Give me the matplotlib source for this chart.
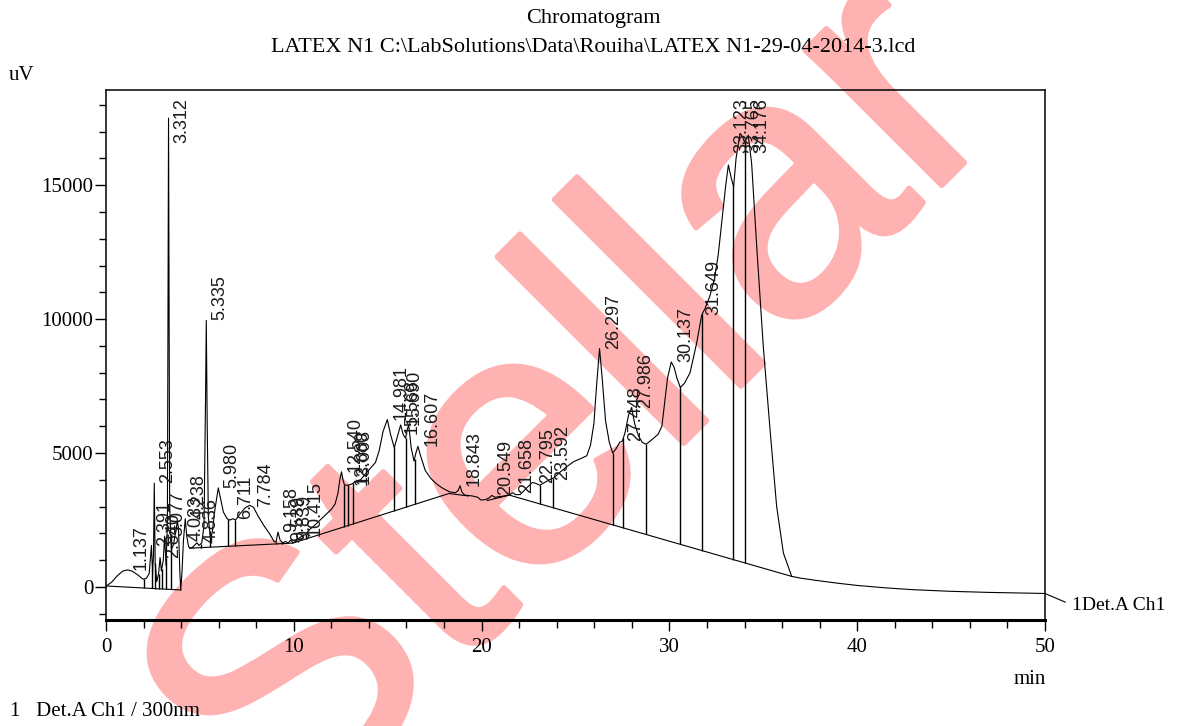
import numpy as np
import matplotlib
matplotlib.use("Agg")
import matplotlib.pyplot as plt
import matplotlib.patheffects as pe
from matplotlib.ticker import MultipleLocator

# ---- trace: time (min), signal (uV) ----
t_min = [0.00, 0.30, 0.60, 0.90, 1.15, 1.40, 1.70, 1.90, 2.00, 2.15, 2.30, 2.42, 2.48, 2.53, 2.57,
         2.62, 2.70, 2.80, 2.88, 2.95, 3.05, 3.12, 3.20, 3.27, 3.33, 3.39, 3.48, 3.60, 3.72, 3.80,
         3.86, 3.93, 3.98, 4.05, 4.12, 4.22, 4.30, 4.40, 4.55, 4.70, 4.84, 4.95, 5.10, 5.22, 5.30,
         5.34, 5.39, 5.45, 5.55, 5.65, 5.80, 5.98, 6.10, 6.25, 6.45, 6.60, 6.75, 6.90, 7.10, 7.40,
         7.65, 7.85, 8.10, 8.40, 8.70, 8.95, 9.05, 9.16, 9.27, 9.40, 9.55, 9.70, 9.84, 9.95, 10.10,
         10.25, 10.42, 10.60, 10.85, 11.10, 11.40, 11.70, 12.00, 12.20, 12.35, 12.45, 12.54, 12.62,
         12.70, 12.90, 13.10, 13.30, 13.55, 13.85, 14.10, 14.35, 14.55, 14.75, 14.98, 15.15, 15.35,
         15.55, 15.69, 15.82, 15.95, 16.05, 16.12, 16.25, 16.40, 16.50, 16.61, 16.75, 17.00, 17.30,
         17.60, 17.90, 18.30, 18.60, 18.75, 18.85, 18.95, 19.10, 19.50, 19.80, 19.95, 20.20, 20.40,
         20.55, 20.70, 20.90, 21.20, 21.50, 21.66, 21.80, 22.05, 22.40, 22.70, 22.85, 23.10, 23.35,
         23.60, 23.85, 24.20, 24.55, 24.90, 25.30, 25.60, 25.80, 25.98, 26.12, 26.28, 26.42, 26.60,
         26.80, 26.98, 27.15, 27.35, 27.50, 27.65, 27.82, 27.99, 28.15, 28.35, 28.55, 28.75, 28.95,
         29.15, 29.40, 29.60, 29.75, 29.90, 30.10, 30.25, 30.40, 30.58, 30.80, 31.10, 31.45, 31.72,
         31.90, 32.15, 32.40, 32.60, 32.80, 33.00, 33.14, 33.28, 33.42, 33.55, 33.76, 33.90, 34.00,
         34.20, 34.38, 34.65, 35.00, 35.36, 35.71, 36.07, 36.51, 37.00, 38.00, 39.00, 40.00, 41.50,
         43.00, 45.00, 47.00, 50.00]
signal_uv = [30, 180, 420, 600, 640, 590, 450, 330, 290, 330, 500, 1550, 500, 1200, 3880,
             900, 200, 500, 1100, 600, 1000, 1900, 800, 2500, 17500, 3000, 1400, 1600, 2100, 2450,
             2200, 600, -120, 600, 1700, 2550, 1900, 1500, 1450, 1550, 1650, 1550, 1650, 2300, 7000,
             9950, 6000, 2600, 1900, 2000, 2900, 3700, 3300, 2800, 2550, 2500, 2550, 2500, 2700, 2950,
             3050, 2980, 2650, 2300, 2000, 1700, 1680, 2050, 1750, 1650, 1700, 1650, 1750, 1650, 1700,
             1800, 1900, 1950, 2150, 2300, 2500, 2700, 2900, 3100, 3500, 4000, 4300, 4000,
             3800, 3800, 3850, 3950, 4000, 4250, 4450, 4650, 5100, 5800, 6250, 5700, 5200,
             5700, 6050, 5700, 5550, 5900, 6050, 5200, 4700, 5000, 5250, 4900, 4350, 4050,
             3850, 3700, 3550, 3520, 3600, 3780, 3550, 3430, 3400, 3350, 3250, 3260, 3330,
             3420, 3350, 3370, 3400, 3450, 3520, 3450, 3450, 3700, 3900, 3880, 3800, 3900,
             4000, 4080, 4300, 4500, 4680, 4800, 4900, 5300, 6100, 7500, 8900, 7800, 6200,
             5400, 5000, 5150, 5400, 5450, 5800, 6400, 6700, 6100, 5650, 5400, 5330, 5430,
             5550, 5700, 6000, 6900, 7800, 8400, 8200, 7800, 7450, 7600, 8000, 9100, 10150,
             10400, 10850, 11500, 12400, 13700, 15000, 15750, 15300, 14940, 16000, 16930, 16800, 16600,
             16860, 15800, 12700, 8970, 5870, 3010, 1270, 400, 330, 230, 140, 60, -30,
             -100, -160, -200, -240]

# integration baselines (time list, uV list) per segment
base_t = [[0.0, 3.98], [4.45, 9.95, 18.26, 19.30], [20.30, 21.48, 36.55]]
base_v = [[40, -110], [1450, 1640, 3490, 3400], [3230, 3430, 390]]

# peak boundaries (drop lines)
drop_t = [2.02, 2.47, 2.62, 2.80, 2.97, 3.18, 3.45, 4.62, 5.05, 5.52, 6.52, 6.88, 9.05, 9.35,
          9.70, 10.20, 10.65, 12.69, 12.90, 13.13, 15.36, 15.95, 16.43, 23.12, 23.78, 26.98,
          27.55, 28.75, 30.56, 31.74, 33.40, 34.00]

peak_labels = ["1.137", "2.391", "2.553", "2.840", "3.077", "3.312", "4.033", "4.238", "4.836",
               "5.335", "5.980", "6.711", "7.784", "9.158", "9.539", "9.839", "10.415", "12.540",
               "12.880", "13.008", "14.981", "15.568", "15.690", "16.607", "18.843", "20.549",
               "21.658", "22.795", "23.592", "26.297", "27.448", "27.986", "30.137", "31.649",
               "33.123", "33.765", "34.176"]

serif = ['Liberation Serif', 'DejaVu Serif']
sans = ['Liberation Sans', 'DejaVu Sans']
W, H = 1186, 726
fig = plt.figure(figsize=(W / 100, H / 100), dpi=100)
ax = fig.add_axes([106 / W, (H - 620) / H, (1045 - 106) / W, (620 - 90) / H])
ax.patch.set_visible(False)

ax.plot(t_min, signal_uv, color='black', lw=0.8)
for bt, bv in zip(base_t, base_v):
    ax.plot(bt, bv, color='black', lw=0.8)

tt = np.array(t_min)
ss = np.array(signal_uv)
for d in drop_t:
    bottom = None
    for bt, bv in zip(base_t, base_v):
        if bt[0] <= d <= bt[-1]:
            bottom = np.interp(d, bt, bv)
    if bottom is None:
        continue
    ax.vlines(d, bottom, np.interp(d, tt, ss), color='black', lw=1.0)

ymax = 18550
for lab in peak_labels:
    rt = float(lab)
    win = (tt >= rt - 0.12) & (tt <= rt + 0.12)
    apex = ss[win].max() if win.any() else np.interp(rt, tt, ss)
    if apex > 15000:
        ax.annotate(lab, xy=(rt, ymax), xytext=(10, -6), textcoords='offset points',
                    rotation=90, ha='center', va='top', fontsize=13,
                    family=sans, color='#1a1a1a')
    else:
        ax.annotate(lab, xy=(rt, apex), xytext=(10, 0), textcoords='offset points',
                    rotation=90, ha='center', va='bottom', fontsize=13,
                    family=sans, color='#1a1a1a')

ax.set_xlim(0, 50)
ax.set_ylim(-1230, ymax)
ax.set_xticks(range(0, 51, 10))
ax.xaxis.set_minor_locator(MultipleLocator(2))
ax.set_yticks([0, 5000, 10000, 15000])
ax.yaxis.set_minor_locator(MultipleLocator(1000))
ax.tick_params(axis='x', which='major', direction='out', length=8, width=1.0, pad=5)
ax.tick_params(axis='x', which='minor', direction='out', length=6, width=1.0)
ax.tick_params(axis='y', which='major', direction='out', length=8, width=1.0, pad=1)
ax.tick_params(axis='y', which='minor', direction='out', length=5, width=1.0)
for lab in ax.get_xticklabels() + ax.get_yticklabels():
    lab.set_fontfamily(serif)
    lab.set_fontsize(15)
for side in ['top', 'left', 'right']:
    ax.spines[side].set_linewidth(1.1)
ax.spines['bottom'].set_linewidth(2.2)

ax.annotate('1Det.A Ch1', xy=(50, signal_uv[-1]), xytext=(1072, H - 605),
            textcoords='figure pixels', ha='left', va='center', fontsize=14, family=serif,
            annotation_clip=False,
            arrowprops=dict(arrowstyle='-', lw=0.8, color='black', shrinkA=3, shrinkB=0,
                            relpos=(0, 0.5)))

fig.text(593 / W, 1 - 18 / H, 'Chromatogram', ha='center', va='center', fontsize=16, family=serif)
fig.text(593 / W, 1 - 47 / H, r'LATEX N1 C:\LabSolutions\Data\Rouiha\LATEX N1-29-04-2014-3.lcd',
         ha='center', va='center', fontsize=16, family=serif)
fig.text(22 / W, 1 - 75 / H, 'uV', ha='center', va='center', fontsize=15, family=serif)
fig.text(1030 / W, 1 - 680 / H, 'min', ha='center', va='center', fontsize=15, family=serif)
fig.text(10 / W, 1 - 712 / H, '1   Det.A Ch1 / 300nm', ha='left', va='center', fontsize=15, family=serif)

# watermark, behind the trace
pink = '#ffb2b2'
fig.text(645 / W, 1 - 482 / H, 'Stellar', rotation=45, rotation_mode='anchor', ha='center',
         va='baseline', fontsize=262, family=sans, color=pink, zorder=-1,
         path_effects=[pe.withStroke(linewidth=4, foreground=pink)])

fig.savefig('out.png', dpi=100)
